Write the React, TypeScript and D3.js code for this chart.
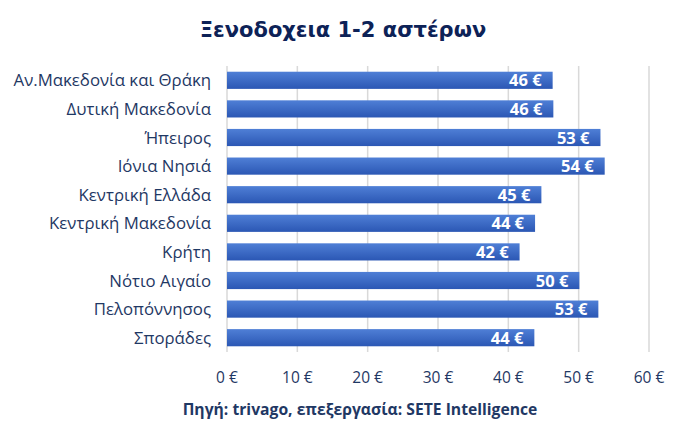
import React from "react";
import * as d3 from "d3";

const categories = [
  "Αν.Μακεδονία και Θράκη",
  "Δυτική Μακεδονία",
  "Ήπειρος",
  "Ιόνια Νησιά",
  "Κεντρική Ελλάδα",
  "Κεντρική Μακεδονία",
  "Κρήτη",
  "Νότιο Αιγαίο",
  "Πελοπόννησος",
  "Σποράδες",
];
const values = [46.3, 46.4, 53.1, 53.7, 44.7, 43.8, 41.6, 50.1, 52.8, 43.7];
const xTicks = [0, 10, 20, 30, 40, 50, 60];
const title = "Ξενοδοχεια 1-2 αστέρων";
const source = "Πηγή: trivago, επεξεργασία: SETE Intelligence";

const W = 688;
const H = 443;
const NAVY = "#1f3864";
const LABEL_FONT = "'Open Sans', sans-serif";

export default function App() {
  const x = d3.scaleLinear().domain([0, 60]).range([227, 649]);
  const y = d3.scaleBand().domain(categories).range([66, 352]).paddingInner(0.4).paddingOuter(0.2);
  const euro = (v: number) => `${Math.round(v)} €`;

  return (
    <svg width={W} height={H} style={{ position: "absolute", left: 0, top: 0, background: "#fff" }}>
      <defs>
        <linearGradient id="barGrad" x1="0" y1="0" x2="0" y2="1">
          <stop offset="0%" stopColor="#4f7fd6" />
          <stop offset="100%" stopColor="#2b57b4" />
        </linearGradient>
      </defs>
      <rect width={W} height={H} fill="#fff" />
      <text x={343} y={37} textAnchor="middle" fontFamily="'DejaVu Sans', Verdana, sans-serif" fontWeight="bold" fontSize={21} fill="#0d2257">
        {title}
      </text>
      {xTicks.map((t) => (
        <line key={t} x1={x(t)} x2={x(t)} y1={66} y2={352} stroke="#d9d9d9" strokeWidth={1.5} />
      ))}
      {categories.map((c, i) => (
        <g key={c}>
          <rect x={x(0)} y={y(c)!} width={x(values[i]) - x(0)} height={y.bandwidth()} fill="url(#barGrad)" />
          <text
            x={x(values[i]) - 11}
            y={y(c)! + y.bandwidth() / 2}
            dy="0.37em"
            textAnchor="end"
            fontFamily={LABEL_FONT}
            fontWeight="bold"
            fontSize={16.5}
            fill="#fff"
          >
            {euro(values[i])}
          </text>
          <text
            x={211}
            y={y(c)! + y.bandwidth() / 2}
            dy="0.36em"
            textAnchor="end"
            fontFamily={LABEL_FONT}
            fontSize={16.8}
            fill={NAVY}
          >
            {c}
          </text>
        </g>
      ))}
      {xTicks.map((t) => (
        <text key={"t" + t} x={x(t)} y={383} textAnchor="middle" fontFamily={LABEL_FONT} fontSize={15.5} fill={NAVY}>
          {`${t} €`}
        </text>
      ))}
      <text x={360} y={415} textAnchor="middle" fontFamily={LABEL_FONT} fontWeight="bold" fontSize={15.7} fill={NAVY}>
        {source}
      </text>
    </svg>
  );
}
